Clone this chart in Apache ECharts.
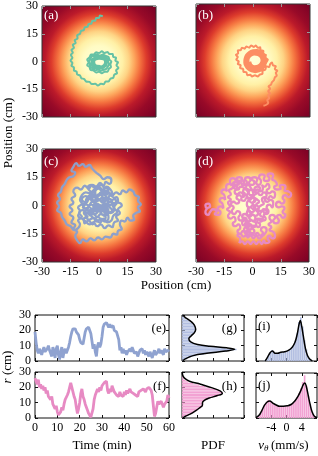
<!DOCTYPE html>
<html><head><meta charset="utf-8">
<script src="https://cdn.jsdelivr.net/npm/echarts@6.0.0/dist/echarts.min.js"></script>
<style>html,body{margin:0;padding:0;background:#fff}#c{width:318px;height:456px}</style>
</head><body><div id="c"></div><script>
// ---------- DATA ----------
const posTicks = [-30, -15, 0, 15, 30];
const rTicks = [0, 10, 20, 30];
const timeTicks = [0, 10, 20, 30, 40, 50, 60];
const vTicks = [-4, 0, 4];
const panelLabels = ['(a)','(b)','(c)','(d)','(e)','(f)','(g)','(h)','(i)','(j)'];

const trajA = [[2,24.5],[0.5,24.8],[0,23.5],[-1.5,23.5],[-2,22],[-3.5,22],[-4,20.5],[-5.5,20.2],[-6,18.8],[-7.5,18.5],[-8,17],[-9.5,16.5],[-10,15],[-11.5,14.2],[-11.3,12.5],[-12.8,11.5],[-12.3,10],[-13.8,9],[-13.2,7.5],[-14.5,6.2],[-13.8,4.8],[-14.8,3.5],[-14,2],[-15,0.5],[-14,-0.8],[-14.5,-2.3],[-13.2,-3.2],[-13.2,-4.8],[-11.8,-5.5],[-11.5,-7],[-10,-7.6],[-9.3,-9],[-7.8,-9.5],[-6.8,-10.8],[-5,-11],[-3.8,-12.2],[-2,-12],[-0.6,-13],[1,-12],[2.5,-12.3],[3.5,-10.8],[5,-10.8],[6,-9.3],[7.5,-8.8],[8,-7.2],[9.5,-6.3],[9,-4.8],[10.2,-3.5],[9.2,-2],[10,-0.5],[8.6,0.5],[9,2],[7.5,2.5],[7.2,4],[5.5,4],[4.5,5.2],[3,4.6],[1.5,5.5],[0,4.6],[-1.5,5],[-2.8,3.8],[-4.2,3.8],[-5,2.2],[-6.2,1],[-5.5,-0.5],[-6.2,-2],[-5,-3],[-4.5,-4.5],[-3,-4.8],[-1.5,-6],[0,-5.5],[1.5,-6.3],[3,-5.5],[4.5,-5.5],[5.2,-4],[6.3,-3],[6,-1.5],[6.5,0],[5.5,1],[5,2.5],[3.5,3],[2,3.8],[0.5,3.2],[-1,3.8],[-2.5,3],[-3.8,2.8],[-4.5,1.5],[-5.3,0],[-4.8,-1.5],[-4.5,-3],[-3.2,-3.8],[-2,-4.8],[-0.5,-4.5],[1,-5],[2.5,-4.5],[3.8,-4],[4.5,-3],[5.2,-1.5],[4.8,0],[4.5,1.5],[3.2,2.2],[1.8,2.8],[0.3,2.5],[-1.2,2.8],[-2.5,2],[-3.5,1.2],[-4,-0.2],[-3.8,-1.8],[-3,-3],[-1.5,-3.8],[0,-3.8],[1.5,-3.8],[2.8,-3],[3.8,-2],[4,-0.5],[3.5,1],[2.2,1.8],[0.8,2],[-0.8,2],[-2.2,1.5],[-3.2,0.5],[-3.5,-1],[-2.8,-2.5],[-1.5,-3.2],[0.2,-3.4],[1.8,-3],[3,-2.2],[3.6,-0.8],[3.3,0.6],[2,1.4],[0.5,1.7],[-1,1.6],[-2.4,1],[-3,-0.2],[-2.8,-1.7],[-1.8,-2.7],[-0.3,-3],[1.3,-2.7],[2.6,-1.8],[3.2,-0.5],[2.8,0.9],[1.5,1.4],[0,1.5],[-1.5,1.2],[-2.5,0.2],[-2.3,-1.3],[-1,-2.3],[0.8,-2.4]];

const trajB = [[5.5,-24],[7,-23.5],[8,-22.5],[7.5,-21],[8.5,-20],[8,-18.5],[9,-17.5],[8,-16.3],[9,-15],[8.2,-13.8],[9.5,-12.8],[10,-11.5],[11,-10.5],[11.5,-9],[12.5,-8],[12,-6.5],[12.8,-5.5],[11.5,-4.5],[12,-3],[10.5,-2.5],[10,-1],[9,-2],[8.5,-3.5],[7,-3],[6.5,-4.8],[5,-5.5],[5,-7],[3.5,-7.5],[2.5,-8.5],[1,-7.8],[-0.5,-8.5],[-1.5,-7.5],[-3,-7.8],[-3.5,-6.3],[-5,-6],[-5.2,-4.5],[-6.8,-4],[-6.5,-2.5],[-8,-1.8],[-7.5,-0.5],[-8.8,0.5],[-8,1.8],[-9,3],[-7.8,3.8],[-8,5.3],[-6.5,5.5],[-5.8,6.8],[-4.3,6.3],[-3.5,7.5],[-2,6.8],[-1,8],[0.5,7.2],[1.5,8],[2.5,6.8],[3.8,7],[4,5.5],[5.5,5],[5.2,3.5],[6.8,3],[6.5,1.5],[7.8,0.5],[7,-1],[6.8,-1.5],[6,-3.2],[4.8,-4.8],[3.2,-5.8],[1.2,-6.2],[-0.8,-5.8],[-2.7,-4.7],[-4,-3],[-4.6,-1],[-4.4,1],[-3.6,3],[-2.1,4.5],[0,5.4],[2.1,5.6],[4,5],[5.6,3.8],[6.6,2],[6.9,0.2],[6.4,-1.7],[5.3,-3.5],[3.7,-4.8],[1.7,-5.4],[-0.3,-5.2],[-2.1,-4.2],[-3.4,-2.6],[-3.9,-0.6],[-3.6,1.5],[-2.5,3.2],[-0.8,4.4],[1.2,4.8],[3.2,4.3],[4.8,3.1],[5.8,1.4],[6,-0.5],[5.3,-2.4],[4,-3.8],[2.2,-4.6],[0.3,-4.6],[-1.5,-3.8],[-2.8,-2.3],[-3.2,-0.4],[-2.8,1.5],[-1.6,3],[0.2,3.8],[2,3.8],[3.7,3],[4.8,1.6],[5.2,-0.1],[4.7,-1.9],[3.4,-3.2],[1.6,-3.8],[-0.2,-3.5],[-1.7,-2.4],[-2.4,-0.7],[-2.2,1.1],[-1,2.6],[0.8,3.2],[2.6,2.9],[4,1.7],[4.5,0],[3.9,-1.7],[2.5,-2.8],[0.8,-3],[-0.8,-2.2],[-1.5,-0.6]];

const trajC = [[2,2],[4,4],[3,6],[5,7],[7,5.5],[9,7],[11,6],[12.5,8],[14.5,7],[16,8.5],[18,7.5],[19,5.5],[21,4.5],[20.5,2.5],[22,0.5],[20.5,-1],[21.5,-3],[19.5,-4],[18,-5.5],[18.5,-7.5],[16.5,-8],[15,-6.5],[13.5,-8.5],[12,-8],[11,-10],[12,-12.5],[10,-13.5],[9.5,-15.5],[7.5,-15],[6,-17],[3.5,-16.5],[1.5,-18],[-0.5,-17],[-2.5,-18.5],[-4.5,-17.5],[-6.5,-19],[-8.5,-18],[-10,-20],[-11.5,-18.5],[-12.5,-16],[-11.5,-14],[-13.5,-12.5],[-12.5,-10.5],[-14.5,-9],[-13.5,-6.5],[-15.5,-4.5],[-14,-2.5],[-15.5,-0.5],[-13.5,1.5],[-14.5,3.5],[-12.5,5.5],[-13.5,7.5],[-11.5,9.5],[-9.5,8.5],[-7.5,10.5],[-5.5,9],[-3.5,11],[-1.5,10],[0.5,12],[2.5,10.5],[3.5,12.5],[5.5,11.5],[6.5,13.5],[4.5,15],[2.5,14],[0.5,16],[-1.5,17.5],[-3.5,19.5],[-5,21.5],[-7,20.5],[-8.5,22],[-10.5,21],[-12,22.5],[-13.5,20.5],[-14.5,18.5],[-12.5,17.5],[-13.5,15.5],[-15.5,15],[-17,13.5],[-18,11.5],[-19.5,9.5],[-20,7.5],[-21.5,5.5],[-20.5,3.5],[-22,1.5],[-21,-0.5],[-22,-2.5],[-20,-4],[-19.5,-6],[-18,-8],[-17,-10],[-15,-11],[-13,-13],[-11,-12],[-10,-10],[-11,-8],[-9,-6],[-10.5,-4],[-8.5,-2.5],[-6.5,-4],[-4.5,-5],[-2.5,-7],[-0.5,-6],[1.5,-8],[3.5,-6.5],[3,-4],[5,-2.5],[3.5,0],[5,2],[3,4],[1,2.5],[-1,4],[-3,2],[-5,3.5],[-6.5,1.5],[-8.5,0.5],[-7,-1.5],[-5,-1],[-3,-3],[-1,-1.5],[1,-3.5],[3,-2],[6,-4],[8,-2],[7,0.5],[9,2],[8,4],[6,5.5],[4,8],[2,7],[0,9],[-2,7],[-1,5],[1,6],[2.5,9],[1,11],[-1,10],[-3,8],[-5,6.5],[-7,7],[-9,5.5],[-10,3],[-9,1],[-11,-1],[-10,-3],[-11,-5.5],[-9,-7],[-7,-8.5],[-5,-10],[-3,-9],[-1,-11],[1,-10],[3,-12],[5,-10.5],[7,-11.5],[8,-9],[10,-8],[9,-6],[11,-4],[10,-2],[12,0],[10,1.5],[8,0.5],[6,2],[4,1],[2,-1],[0,0.5],[-2,-1],[-4,0.5],[-6,-2],[-4,-3.5],[-2,-4.5],[0,-3],[2,-5],[4,-4],[5,-6.5],[3,-8.5],[1,-7],[-1,-8.5],[-3,-6.5],[-5,-7.5],[-7,-5.5],[-5.5,-3],[-3,-1.5],[-1,1],[1,0],[3,1.5],[2,4.5],[0,6],[-2,4.5],[-4,5],[-3,2.5],[-1,0],[1,-2],[3,-0.5],[5,0.5],[4,3],[2,1.5],[0,3],[-2,1.5],[-3,-1],[-1,-3],[1,-1],[3,-3.5],[4.5,-1.5],[2.5,0.5],[0.5,-0.5],[-1.5,0.5],[-3.5,2],[-5.5,0],[-7,2],[-6,4.5],[-4,6],[-2,8.5],[0,10],[2,8],[4,10],[6,8.5],[7,6.5],[5,4.5],[7,3],[9,4.5],[10,2.5],[8,-1],[9.5,-3.5],[7.5,-5.5],[6.5,-8],[4.5,-9],[2.5,-7],[0.5,-9],[-1.5,-7.5],[-3.5,-10],[-5.5,-8],[-7.5,-9.5],[-8,-7],[-6,-6],[-8,-4],[-6.5,-2],[-8.5,-1],[-7,1],[-9,3],[-7,5],[-5,4],[-3,6],[-1,4.5],[1,7],[3,5.5],[5,7],[3.5,9.5],[1.5,8],[-0.5,10.5],[-2.5,9.5],[-4,11],[-6,9.5],[-4.5,7.5],[-2.5,5],[-0.5,2.5],[1.5,4],[3.5,2.5],[5.5,3.5],[7,1.5],[5.5,-0.5],[7,-2.5],[5,-4],[3,-5.5],[1,-4.5],[-1,-6],[-3,-4.5],[-5,-5.5],[-4,-2.5],[-2,-3],[0,-1.5],[2,-3],[4,-2],[2.5,0]];

const trajD = [[-24,-2],[-25,0],[-23.5,1],[-22.5,-0.5],[-24,-1.5],[-25,-3.5],[-23.5,-5],[-22.5,-3.5],[-21,-2],[-19,-3],[-20,-4.5],[-18,-5],[-17,-3.5],[-18.5,-2],[-17,-0.5],[-15.5,-1.5],[-16,1],[-17.5,2.5],[-16,4],[-14.5,3],[-15,5.5],[-16.5,7],[-15,8.5],[-13.5,7.5],[-14,10],[-12.5,11.5],[-11,10.5],[-12,13],[-10.5,14.5],[-9,13],[-10,11.5],[-8,11],[-7,12.5],[-8.5,14],[-7,15],[-5.5,14],[-6,12],[-4.5,11],[-3,12.5],[-4,14],[-2.5,15],[-1,13.5],[-2,12],[0,11],[1,12.5],[-0.5,14],[1,15],[2.5,14],[2,12],[3.5,11],[4.5,13],[3.5,15],[5,16.5],[6.5,15.5],[6,14],[7.5,13],[9,14.5],[8,16],[9.5,17],[11,16],[10.5,14],[12,13],[13,11],[11.5,10],[13,8.5],[15,9],[14.5,10.5],[16,11],[17.5,10],[17,8],[19,7.5],[20.5,6],[19,4.5],[17.5,5.5],[16,4],[17,2.5],[15.5,1],[14,2],[12.5,0.5],[14,-1],[15.5,-0.5],[17,-1.5],[16,-3.5],[17.5,-5],[16,-6.5],[14.5,-5],[13,-6],[14,-8],[12.5,-9.5],[11,-8],[12,-6.5],[10.5,-5],[9,-6.5],[10,-8.5],[8.5,-10],[10,-11.5],[9,-13],[11,-14],[12,-16],[10.5,-17.5],[9,-16],[8,-17.5],[9,-19],[7,-20],[6,-18.5],[5,-20.5],[3.5,-19],[2,-20.5],[0.5,-19],[-1,-20.5],[-2.5,-19],[-4,-20.5],[-5.5,-19],[-7,-20],[-6.5,-17.5],[-8,-16],[-6.5,-15],[-5,-16.5],[-3.5,-15],[-4.5,-13],[-3,-11.5],[-1.5,-13],[-0.5,-11],[-2,-9.5],[-1,-7.5],[0.5,-8.5],[1.5,-6.5],[0,-5],[-1.5,-6],[-3,-4.5],[-2,-2.5],[-0.5,-3.5],[1,-2],[0,0],[-1.5,-1],[-3,0.5],[-2,2.5],[-0.5,1.5],[1,3],[0,5],[-1.5,4],[-3,5.5],[-2,7.5],[-3.5,9],[-5,7.5],[-4,6],[-5.5,4.5],[-7,5.5],[-8.5,4],[-7,2.5],[-8.5,1],[-10,2],[-11.5,0.5],[-10,-1],[-11,-3],[-9.5,-4.5],[-8,-3],[-6.5,-4.5],[-7.5,-6.5],[-6,-8],[-4.5,-6.5],[-3,-8],[-4,-10],[-2.5,-11.5],[-1,-10],[0.5,-11.5],[2,-10],[1,-8],[3,-7],[4.5,-8.5],[5.5,-6.5],[4,-5],[5.5,-3],[7,-4.5],[8.5,-3],[7.5,-1],[9,0.5],[10.5,-1],[11,1.5],[9.5,3],[8,2],[6.5,3.5],[7.5,5.5],[6,7],[4.5,5.5],[3,7],[4,9],[2.5,10],[1,8.5],[2,6.5],[0.5,5],[2,3.5],[3.5,2],[2,0.5],[3.5,-1],[2,-2.5],[3,-4],[1.5,-5.5],[-0.5,-4.5],[-2,-6],[-1,-8],[-3,-9],[-2,-12],[-3.5,-14],[-2,-15.5],[-0.5,-14.5],[1,-16],[2.5,-14.5],[4,-16],[5.5,-14.5],[4.5,-13],[6,-11.5],[7.5,-13],[6.5,-15],[5,-16.5],[3.5,-17.5],[2,-16],[0.5,-17.5],[-1,-16],[-2.5,-17],[-3,-15],[-1.5,-13.5],[-3,-12],[-1.5,-10.5],[-3,-9],[-4.5,-10.5],[-5.5,-9],[-4,-7.5],[-5.5,-6],[-4,-4.5],[-2.5,-5.5],[-1,-4],[-2.5,-2.5],[-1,-1],[0.5,-2],[1.5,-0.5],[0,1],[1.5,2.5],[0,4],[-1.5,3],[-3,4],[-4.5,2.5],[-6,3.5],[-5,5.5],[-6.5,7],[-8,6],[-9.5,7.5],[-8,9],[-9.5,10.5],[-11,9],[-12.5,8],[-11.5,6],[-13,4.5],[-11.5,3],[-13,1.5],[-12,-0.5],[-13.5,-2],[-12,-3.5],[-13,-5.5],[-11.5,-7],[-10,-6],[-9,-8],[-10.5,-9.5],[-9,-11],[-7.5,-10],[-6.5,-12],[-8,-13.5],[-6.5,-15],[-5,-13.5],[-3.5,-15],[-2,-13.5],[-0.5,-15],[1,-13.5],[0,-12],[1.5,-10.5],[3,-11.5],[4,-10],[2.5,-8.5],[4,-7],[5.5,-8],[7,-7],[6,-5],[7.5,-3.5],[6,-2],[4.5,-3],[3,-1.5],[4.5,0],[6,1],[5,3],[6.5,4.5],[8,3.5],[9.5,5],[11,4],[12,6],[10.5,7.5],[9,6.5],[7.5,8],[9,9.5],[8,11.5],[6.5,10],[5,11],[5.5,9],[4,7.5],[2.5,8.5],[1,7],[-0.5,8.5],[-2,7],[-1,5.5],[0.5,6],[-1,9.5],[-2.5,11],[-4,9.5],[-5.5,10.5],[-4.5,12.5],[-6,13.5],[-7.5,12],[-9,12.5],[-10.5,11],[-9.5,9],[-7.5,8.5],[-6.5,10],[-3,8],[-2,6]];

// r(t) sampled every 0.5 min, 0..60
const timeStep = 0.5;
const rE = [19,12,7,5,8,6,4,7,9,6, 5,8,10,7,5,3,9,6,2,8, 10,4,1,6,9,2,6,8,5,6, 9,12,16,19,21,20,21,19,20,17, 14,12,13,11,15,19,21,20,22,21, 18,13,8,11,6,3,10,12,9,11, 16,22,24,23,25,24,22,24,22,21, 23,20,21,19,20,14,7,9,5,8, 5,7,4,6,5,8,6,9,7,5, 4,6,3,5,7,6,8,5,7,4, 6,5,3,6,4,2,5,7,4,3, 6,8,5,7,6,4,8,6,5,7, 6];
const rF = [26,24,22,25,20,22,19,21,18,20, 16,18,14,15,12,14,9,10,6,8, 4,2,1,4,7,5,9,12,11,15, 17,20,23,20,17,14,12,7,3,6, 10,16,19,14,12,9,7,5,3,2, 0.5,1,6,12,15,17,19,17,20,18, 21,20,23,22,24,18,16,19,17,21, 19,17,18,15,16,14,17,15,16,14, 17,15,18,16,17,19,17,18,16,17, 15,16,14,17,16,18,17,19,18,17, 19,18,20,19,18,15,8,1,3,7, 11,9,8,11,10,7,9,8,11,15, 13];

// PDF of r (1 cm bins)
const rBinCenters = [0.5,1.5,2.5,3.5,4.5,5.5,6.5,7.5,8.5,9.5,10.5,11.5,12.5,13.5,14.5,15.5,16.5,17.5,18.5,19.5,20.5,21.5,22.5,23.5,24.5,25.5,26.5,27.5,28.5,29.5];
const histG = [0.03,0.08,0.14,0.22,0.35,0.52,0.72,0.88,0.7,0.45,0.28,0.18,0.13,0.11,0.11,0.13,0.15,0.18,0.2,0.22,0.23,0.22,0.21,0.2,0.17,0.14,0.1,0.06,0.03,0.01];
const curveG = [[0.01,0],[0.06,1.5],[0.18,3.5],[0.4,5],[0.7,6.5],[0.85,7.6],[0.72,8.6],[0.45,9.6],[0.25,10.8],[0.14,12.5],[0.11,14.5],[0.15,16.5],[0.2,18.5],[0.22,20.5],[0.21,22.5],[0.18,24.5],[0.12,26.5],[0.05,28.5],[0.01,30]];
const histH = [0.02,0.07,0.12,0.18,0.22,0.26,0.3,0.33,0.34,0.33,0.34,0.37,0.42,0.5,0.58,0.64,0.66,0.6,0.54,0.46,0.37,0.28,0.18,0.1,0.06,0.03,0.02,0.01,0.005,0];
const curveH = [[0.01,0],[0.05,1],[0.13,2.5],[0.21,4.5],[0.28,6.5],[0.33,8.5],[0.33,10],[0.36,11.5],[0.44,13],[0.56,14.5],[0.65,16],[0.62,17.5],[0.5,19.5],[0.3,22],[0.12,24],[0.04,26],[0.01,28],[0.005,30]];

// PDF of v_theta (0.5 mm/s bins)
const vBinCenters = [-7.75,-7.25,-6.75,-6.25,-5.75,-5.25,-4.75,-4.25,-3.75,-3.25,-2.75,-2.25,-1.75,-1.25,-0.75,-0.25,0.25,0.75,1.25,1.75,2.25,2.75,3.25,3.75,4.25,4.75,5.25,5.75,6.25,6.75,7.25,7.75];
const histI = [0,0,0,0,0.01,0.04,0.12,0.2,0.24,0.2,0.17,0.18,0.19,0.19,0.2,0.2,0.22,0.25,0.28,0.33,0.42,0.6,0.85,0.95,0.75,0.45,0.25,0.1,0.04,0.01,0,0];
const curveI = [[-5.6,0],[-5,0.08],[-4.3,0.18],[-3.7,0.22],[-3,0.17],[-2.3,0.17],[-1.5,0.19],[-0.5,0.2],[0.5,0.23],[1.5,0.3],[2.2,0.4],[2.8,0.58],[3.3,0.8],[3.6,0.88],[4,0.75],[4.4,0.55],[4.9,0.3],[5.5,0.12],[6.2,0.03],[6.8,0]];
const histJ = [0.02,0.06,0.12,0.2,0.3,0.36,0.4,0.38,0.36,0.31,0.29,0.27,0.26,0.25,0.26,0.27,0.27,0.29,0.31,0.34,0.4,0.46,0.55,0.66,0.8,0.95,0.72,0.5,0.3,0.14,0.05,0.02];
const curveJ = [[-8,0.01],[-7.2,0.06],[-6.5,0.16],[-5.8,0.28],[-5,0.36],[-4.4,0.38],[-3.6,0.33],[-2.7,0.29],[-1.8,0.26],[-0.8,0.26],[0.2,0.27],[1.2,0.3],[2.2,0.38],[3,0.48],[3.8,0.62],[4.4,0.74],[4.8,0.78],[5.2,0.7],[5.7,0.5],[6.2,0.3],[6.7,0.14],[7.3,0.04],[8,0.01]];

// ---------- CHART ----------
const FONT = '"Liberation Serif","DejaVu Serif",serif';
const chart = echarts.init(document.getElementById('c'), null, {renderer:'canvas'});

function heatBg(){
  return new echarts.graphic.RadialGradient(0.5,0.5,0.7071,[
    {offset:0,color:'#ffffd9'},{offset:0.2,color:'#fffbc4'},{offset:0.3,color:'#fff0a6'},
    {offset:0.38,color:'#fed384'},{offset:0.45,color:'#fda55c'},{offset:0.52,color:'#f4723f'},
    {offset:0.6,color:'#dd3b2c'},{offset:0.68,color:'#bb1a2a'},{offset:0.8,color:'#980a28'},
    {offset:1,color:'#770025'}]);
}
const boxes = [
  [42,4,114,113],[196,4,114,113],[42,149,114,113],[196,149,114,113],
  [35,315,134,46],[35,372,134,46],[182,315,62,46],[182,372,62,46],[256,315,61,46],[256,373,61,45]
];
const grid = boxes.map((b,i)=>({left:b[0],top:b[1],width:b[2],height:b[3],show:true,
  borderColor: i<4?'#333':'#111', borderWidth:1,
  backgroundColor: i<4?heatBg():'rgba(0,0,0,0)'}));

const xAxis=[], yAxis=[], series=[];
function lab(show, extra){ return Object.assign({show, fontFamily:FONT, fontSize:12, color:'#000', margin:4}, extra||{}); }
function vAxis(g,pos,min,max,interval,showLabel,tc,extraLab){
  return {gridIndex:g,type:'value',position:pos,min,max,interval,
    axisLine:{show:false,onZero:false},splitLine:{show:false},
    axisTick:{show:true,inside:true,length:3,lineStyle:{color:tc,width:1}},
    axisLabel:lab(showLabel,extraLab)};
}
function panel(g,xr,yr,showX,showY,tc,xLabExtra){
  xAxis.push(vAxis(g,'bottom',xr[0],xr[1],xr[2],showX,tc,xLabExtra)); const xi=xAxis.length-1;
  xAxis.push(vAxis(g,'top',xr[0],xr[1],xr[2],false,tc));
  yAxis.push(vAxis(g,'left',yr[0],yr[1],yr[2],showY,tc)); const yi=yAxis.length-1;
  yAxis.push(vAxis(g,'right',yr[0],yr[1],yr[2],false,tc));
  return {x:xi,y:yi};
}
const P=[-30,30,posTicks[1]-posTicks[0]];
const pa=panel(0,P,P,false,true,'#999');
const pb=panel(1,P,P,false,false,'#999');
const pc=panel(2,P,P,true,true,'#999');
const pd=panel(3,P,P,true,false,'#999');
const T=[timeTicks[0],timeTicks[timeTicks.length-1],timeTicks[1]-timeTicks[0]];
const R=[rTicks[0],rTicks[rTicks.length-1],rTicks[1]-rTicks[0]];
const pe=panel(4,T,R,false,true,'#111');
const pf=panel(5,T,R,true,true,'#111');
const pg=panel(6,[0,1,0.25],R,false,false,'#111');
const ph=panel(7,[0,1,0.25],R,false,false,'#111');
const V=[-8,8,vTicks[1]-vTicks[0]];
const pi=panel(8,V,[0,1,0.34],false,false,'#111');
const pj=panel(9,V,[0,1,0.34],true,false,'#111',{showMinLabel:false,showMaxLabel:false});

function traj(p,data,color,w,sm){
  series.push({type:'line',xAxisIndex:p.x,yAxisIndex:p.y,data,showSymbol:false,symbol:'none',smooth:sm,
    lineStyle:{color,width:w},z:5,silent:true});
}
traj(pa,trajA,'#66c2a5',2,0.3);
traj(pb,trajB,'#fc8d62',2,0.3);
traj(pc,trajC,'#8da0cb',2.3,0.5);
traj(pd,trajD,'#e78ac3',2.3,0.6);

function ts(p,vals,color){
  series.push({type:'line',xAxisIndex:p.x,yAxisIndex:p.y,data:vals.map((v,i)=>[i*timeStep,v]),
    symbol:'none',lineStyle:{color,width:2.8},z:5});
}
ts(pe,rE,'#8fa2d0');
ts(pf,rF,'#e78ac3');

function hHist(g,p,hist,curve,color){
  yAxis.push({gridIndex:g,type:'category',data:rBinCenters,show:false}); const yc=yAxis.length-1;
  series.push({type:'bar',xAxisIndex:p.x,yAxisIndex:yc,data:hist,barCategoryGap:'14%',
    itemStyle:{color},z:2});
  series.push({type:'line',xAxisIndex:p.x,yAxisIndex:p.y,data:curve,smooth:0.4,symbol:'none',
    lineStyle:{color:'#000',width:1.5},z:4});
}
hHist(6,pg,histG,curveG,'#b2bee1');
hHist(7,ph,histH,curveH,'#f2a2d3');
function vHist(g,p,hist,curve,color){
  xAxis.push({gridIndex:g,type:'category',data:vBinCenters,show:false}); const xc=xAxis.length-1;
  series.push({type:'bar',xAxisIndex:xc,yAxisIndex:p.y,data:hist,barCategoryGap:'14%',
    itemStyle:{color},z:2});
  series.push({type:'line',xAxisIndex:p.x,yAxisIndex:p.y,data:curve,smooth:0.4,symbol:'none',
    lineStyle:{color:'#000',width:1.5},z:4});
}
vHist(8,pi,histI,curveI,'#b2bee1');
vHist(9,pj,histJ,curveJ,'#f2a2d3');

// ---------- TEXT ----------
function txt(x,y,text,o){
  o=o||{};
  return {type:'text',x,y,rotation:o.rot||0,z:100,silent:true,
    style:{text,fill:o.fill||'#000',font:(o.italic?'italic ':'')+(o.size||13)+'px '+FONT,
      align:o.align||'center',verticalAlign:'middle'}};
}
const labelPos = [[44,16,'left','#fff'],[198,16,'left','#fff'],[44,162,'left','#fff'],[198,162,'left','#fff'],
  [166,329,'right','#000'],[166,387,'right','#000'],[237,329,'right','#000'],[237,387,'right','#000'],
  [258,327,'left','#000'],[258,386,'left','#000']];
const graphic = [
  txt(176,286,'Position (cm)'),
  txt(9,133,'Position (cm)',{rot:Math.PI/2}),
  txt(102,446,'Time (min)'),
  txt(213,446,'PDF'),
  txt(264,446,'v',{italic:true,align:'right'}),
  txt(264,449,'θ',{italic:true,size:9,align:'left'}),
  txt(271,446,'(mm/s)',{align:'left'}),
  {type:'text',x:8,y:367,rotation:Math.PI/2,z:100,style:{text:'{i|r} (cm)',font:'13px '+FONT,fill:'#000',align:'center',verticalAlign:'middle',
    rich:{i:{fontStyle:'italic',fontFamily:FONT,fontSize:13}}}}
];
labelPos.forEach((l,i)=>graphic.push(txt(l[0],l[1],panelLabels[i],{align:l[2],fill:l[3]})));

chart.setOption({animation:false,grid,xAxis,yAxis,series,graphic});
</script></body></html>
